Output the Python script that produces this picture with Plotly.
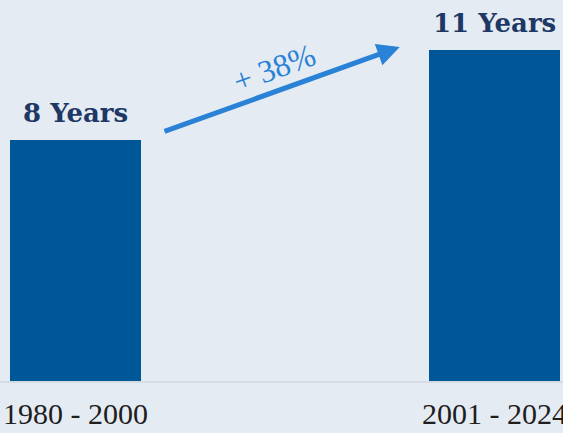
import plotly.graph_objects as go

categories = ["1980 - 2000", "2001 - 2024"]
values = [8, 11]
bar_labels = ["8 Years", "11 Years"]
change_label = "+ 38%"

BG = "rgb(229,235,243)"
BAR = "rgb(0,87,151)"
NAVY = "rgb(30,56,102)"
ARROW = "rgb(42,130,214)"

fig = go.Figure()
fig.add_trace(go.Bar(x=categories, y=values, width=0.3126,
                     marker=dict(color=BAR, line=dict(width=0)),
                     hoverinfo="skip"))

for c, v, t in zip(categories, values, bar_labels):
    fig.add_annotation(x=c, y=v, xref="x", yref="y", text="<b>%s</b>" % t,
                       showarrow=False, yanchor="bottom", yshift=10,
                       font=dict(family="DejaVu Serif", size=26, color=NAVY))

# arrow between the two bar tops
fig.add_annotation(x=0.774, y=11.09, xref="x", yref="y",
                   ax=0.209, ay=8.27, axref="x", ayref="y",
                   text="", showarrow=True, arrowhead=2, arrowsize=0.9,
                   arrowwidth=5, arrowcolor=ARROW, standoff=0)
fig.add_annotation(x=0.474, y=10.39, xref="x", yref="y", text=change_label,
                   showarrow=False, textangle=-20,
                   font=dict(family="Liberation Serif, DejaVu Serif, serif", size=32, color=ARROW))

fig.update_layout(
    template="none",
    width=563, height=433,
    margin=dict(l=0, r=0, t=0, b=52, pad=0),
    paper_bgcolor=BG, plot_bgcolor=BG,
    showlegend=False,
    bargap=0,
)
fig.update_xaxes(type="category", range=[-0.180, 1.1635], automargin=False,
                 showgrid=False, zeroline=False, showline=True,
                 linecolor="rgb(212,219,229)", linewidth=2,
                 ticks="", ticklabelstandoff=5,
                 tickfont=dict(family="Liberation Serif, DejaVu Serif, serif", size=30, color="rgb(30,30,30)"))
fig.update_yaxes(range=[0, 12.65], visible=False, showgrid=False, zeroline=False,
                 automargin=False)

fig.write_html("out.html")
